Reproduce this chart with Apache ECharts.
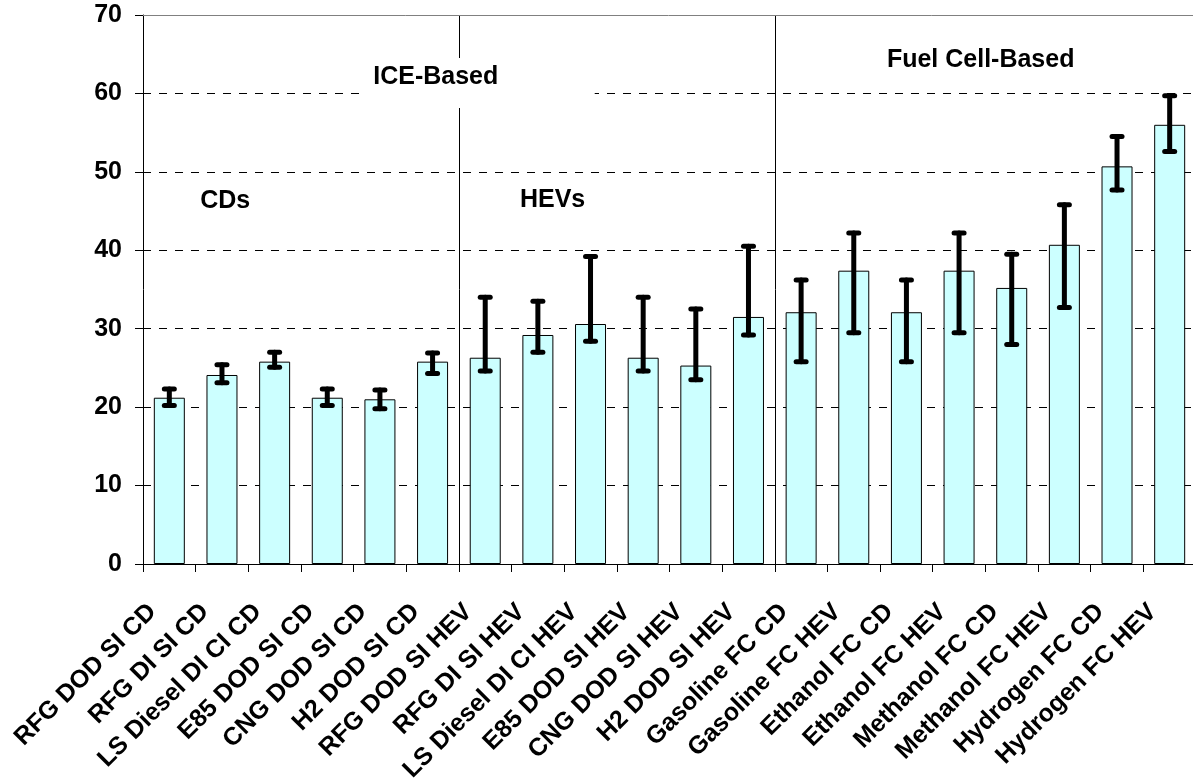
<!DOCTYPE html>
<html>
<head>
<meta charset="utf-8">
<script src="https://cdn.jsdelivr.net/npm/echarts@6/dist/echarts.min.js"></script>
<style>
  html, body { margin: 0; padding: 0; background: #ffffff; }
  #chart { width: 1193px; height: 780px; }
</style>
</head>
<body>
<div id="chart"></div>
<script>
// Vehicle / fuel pathway names along the horizontal axis
const categories = [
  'RFG DOD SI CD', 'RFG DI SI CD', 'LS Diesel DI CI CD', 'E85 DOD SI CD',
  'CNG DOD SI CD', 'H2 DOD SI CD', 'RFG DOD SI HEV', 'RFG DI SI HEV',
  'LS Diesel DI CI HEV', 'E85 DOD SI HEV', 'CNG DOD SI HEV', 'H2 DOD SI HEV',
  'Gasoline FC CD', 'Gasoline FC HEV', 'Ethanol FC CD', 'Ethanol FC HEV',
  'Methanol FC CD', 'Methanol FC HEV', 'Hydrogen FC CD', 'Hydrogen FC HEV'
];

// Central estimate for each pathway
const values = [
  21.2, 24.1, 25.8, 21.2, 21.0, 25.8,
  26.3, 29.2, 30.6, 26.3, 25.3, 31.5,
  32.1, 37.4, 32.1, 37.4, 35.2, 40.7, 50.7, 56.0
];

// Lower and upper ends of the uncertainty range
const lowValues = [
  20.2, 23.1, 25.1, 20.2, 19.8, 24.3,
  24.6, 27.0, 28.4, 24.6, 23.5, 29.2,
  25.8, 29.5, 25.8, 29.5, 28.0, 32.7, 47.7, 52.6
];
const highValues = [
  22.3, 25.4, 27.0, 22.3, 22.2, 26.9,
  34.0, 33.5, 39.2, 34.0, 32.5, 40.5,
  36.2, 42.2, 36.2, 42.2, 39.5, 45.8, 54.5, 59.7
];

// Category counts where the vehicle groups split (CDs | HEVs | fuel cells)
const groupSplits = [6, 12];

// Group captions
const groupTexts = ['CDs', 'HEVs', 'ICE-Based', 'Fuel Cell-Based'];

const FONT = '"Liberation Sans", Arial, Helvetica, sans-serif';

const chart = echarts.init(document.getElementById('chart'), null, { renderer: 'canvas' });

const errorData = values.map((v, i) => [i, lowValues[i], highValues[i]]);

const option = {
  backgroundColor: '#ffffff',
  animation: false,
  grid: {
    left: 143, top: 15, right: -3, bottom: 216,
    containLabel: false,
    outerBoundsMode: 'none'
  },
  xAxis: [
    {
      type: 'category',
      data: categories,
      boundaryGap: true,
      axisLine: { show: true, lineStyle: { color: '#000', width: 1 } },
      axisTick: { show: true, length: 8, interval: 0, lineStyle: { color: '#000' } },
      axisLabel: {
        interval: 0,
        rotate: 45,
        margin: 27,
        padding: [0, 24, 0, 0],
        color: '#000',
        fontFamily: FONT,
        fontWeight: 'bold',
        fontSize: 25
      },
      splitLine: { show: false }
    },
    {
      type: 'value',
      min: 0,
      max: categories.length,
      show: false
    }
  ],
  yAxis: {
    type: 'value',
    min: 0,
    max: 70,
    interval: 10,
    axisLine: { show: true, lineStyle: { color: '#000', width: 1 } },
    axisTick: { show: true, length: 8, lineStyle: { color: '#000' } },
    axisLabel: {
      margin: 21,
      color: '#000',
      fontFamily: FONT,
      fontWeight: 'bold',
      fontSize: 25
    },
    splitLine: {
      show: true,
      showMinLine: false,
      showMaxLine: false,
      lineStyle: { color: '#000', width: 1, type: [8, 8] }
    }
  },
  series: [
    {
      type: 'bar',
      xAxisIndex: 0,
      data: values,
      barWidth: 31,
      itemStyle: { color: '#CCFFFF', borderColor: '#000', borderWidth: 1 },
      markLine: {
        silent: true,
        symbol: 'none',
        label: { show: false },
        lineStyle: { color: '#808080', type: 'solid', width: 1 },
        data: [{ yAxis: 70 }]
      },
      z: 2
    },
    {
      // group dividers
      type: 'custom',
      xAxisIndex: 1,
      yAxisIndex: 0,
      data: groupSplits.map(s => [s]),
      renderItem: function (params, api) {
        const top = api.coord([api.value(0), 70]);
        const bottom = api.coord([api.value(0), 0]);
        return {
          type: 'line',
          shape: { x1: Math.round(top[0]) + 0.5, y1: top[1], x2: Math.round(bottom[0]) + 0.5, y2: bottom[1] },
          style: { stroke: '#000', lineWidth: 1 }
        };
      },
      z: 3
    },
    {
      // uncertainty ranges
      type: 'custom',
      xAxisIndex: 0,
      yAxisIndex: 0,
      data: errorData,
      renderItem: function (params, api) {
        const idx = api.value(0);
        const lo = api.coord([idx, api.value(1)]);
        const hi = api.coord([idx, api.value(2)]);
        const cx = lo[0];
        const half = 5;
        const st = { stroke: '#000', lineWidth: 5, lineCap: 'round' };
        return {
          type: 'group',
          children: [
            { type: 'line', shape: { x1: cx, y1: hi[1], x2: cx, y2: lo[1] }, style: st },
            { type: 'line', shape: { x1: cx - half, y1: hi[1], x2: cx + half, y2: hi[1] }, style: st },
            { type: 'line', shape: { x1: cx - half, y1: lo[1], x2: cx + half, y2: lo[1] }, style: st }
          ]
        };
      },
      z: 4
    }
  ]
};

chart.setOption(option);

// Place the group captions in axis coordinates
function px(xv, yv) {
  return [
    chart.convertToPixel({ xAxisIndex: 1 }, xv),
    chart.convertToPixel({ yAxisIndex: 0 }, yv)
  ];
}

const cdPos = px(1.56, 46.3);
const hevPos = px(7.78, 46.4);
const icePos = px(5.56, 62.1);
const fcPos = px(15.91, 64.2);

const textStyle = (t, p) => ({
  type: 'text',
  x: p[0],
  y: p[1],
  z: 101,
  style: {
    text: t,
    fill: '#000',
    font: 'bold 25px ' + FONT,
    align: 'center',
    verticalAlign: 'middle'
  }
});

chart.setOption({
  graphic: [
    {
      type: 'rect',
      z: 100,
      shape: { x: icePos[0] - 69, y: icePos[1] - 19, width: 228, height: 50 },
      style: { fill: '#ffffff' }
    },
    textStyle(groupTexts[0], cdPos),
    textStyle(groupTexts[1], hevPos),
    textStyle(groupTexts[2], icePos),
    textStyle(groupTexts[3], fcPos)
  ]
});
</script>
</body>
</html>
